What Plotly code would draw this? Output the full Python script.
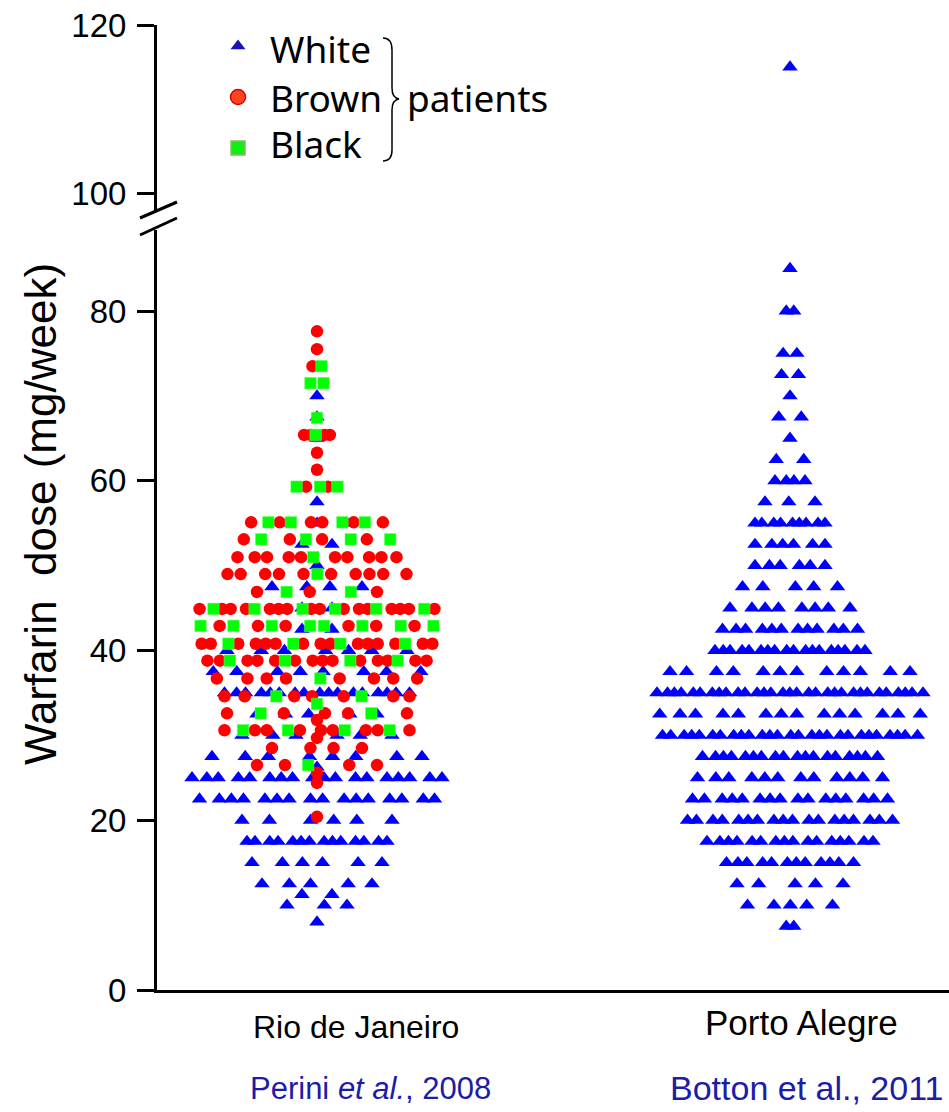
import numpy as np
import plotly.graph_objects as go

# ---------------------------------------------------------------------------
# Weekly warfarin dose (mg/week): dose rows and number of patients per row
# ---------------------------------------------------------------------------
sites = ["Rio de Janeiro", "Porto Alegre"]
citations = ["Perini <i>et al.</i>, 2008", "Botton et al., 2011"]
groups = ["White", "Brown", "Black"]

rio_white_dose = [70, 67.5, 65, 57.5, 55, 52.5, 50, 47.5, 45, 42.5, 40, 37.5, 35,
                  32.5, 30, 27.5, 26.25, 25, 22.5, 20, 17.5, 15, 12.5, 11.25, 10, 8]
rio_white_n = [1, 1, 1, 1, 3, 2, 1, 4, 2, 2, 7, 8, 17,
               5, 6, 8, 1, 18, 16, 6, 14, 6, 5, 2, 3, 1]

rio_brown_dose = [77.6, 75.5, 73.5, 65.4, 63.3, 61.3, 59.3, 55.1, 53.1, 51.0, 49.0,
                  46.9, 44.9, 42.9, 40.8, 38.8, 36.7, 34.6, 32.6, 31.8, 30.6, 29.7,
                  28.5, 26.5, 25.6, 24.4, 20.4]
rio_brown_n = [1, 1, 1, 4, 1, 1, 2, 6, 4, 10, 10,
               3, 16, 6, 15, 14, 8, 7, 5, 1, 9, 1,
               4, 4, 1, 1, 1]

rio_black_dose = [73.5, 71.5, 67.4, 65.4, 59.3, 55.1, 53.1, 51.0, 49.0, 46.9, 44.9,
                  42.9, 40.8, 38.8, 36.7, 34.6, 33.7, 32.6, 30.6, 26.5]
rio_black_n = [1, 2, 1, 1, 3, 4, 4, 1, 1, 2, 6,
               8, 4, 4, 1, 2, 1, 2, 4, 1]

porto_white_dose = [115, 85, 80, 75, 72.5, 70, 67.5, 65, 62.5, 60, 57.5, 55, 52.5,
                    50, 47.5, 45, 42.5, 40, 37.5, 35, 32.5, 30, 27.5, 25, 22.5, 20,
                    17.5, 15, 12.5, 10, 7.5]
porto_white_n = [1, 1, 2, 2, 2, 1, 2, 1, 2, 4, 3, 9, 6,
                 6, 5, 8, 12, 18, 12, 31, 14, 27, 18, 12, 16, 18,
                 16, 12, 5, 5, 2]

y_ticks_low = [0, 20, 40, 60, 80]
y_ticks_high = [100, 120]

# ---------------------------------------------------------------------------
# Canvas geometry (pixels) and the broken value axis
# ---------------------------------------------------------------------------
W, H = 949, 1112
PL, PR, PT, PB = 157, 949, 25, 990          # plot-area edges
SITE_PX = [317, 790]                         # swarm centre of each site
PX_PER_X = SITE_PX[1] - SITE_PX[0]           # one category step in pixels
LOW_PX_PER_UNIT = 8.4875                     # lower segment: 0..~89
HIGH_PX_PER_UNIT = 8.4                       # upper segment: ~98..120
LOW_TOP_PX, HIGH_BOT_PX = 230, 210           # where the axis is broken
BREAK_Y = 90                                 # values above go on the upper segment

plot_h = PB - PT
low_domain = [0, (PB - LOW_TOP_PX) / plot_h]
low_range = [0, (PB - LOW_TOP_PX) / LOW_PX_PER_UNIT]
high_domain = [(PB - HIGH_BOT_PX) / plot_h, 1]
high_range = [120 - (HIGH_BOT_PX - PT) / HIGH_PX_PER_UNIT, 120]
x_range = [1 - (SITE_PX[0] - PL) / PX_PER_X, 2 + (PR - SITE_PX[1]) / PX_PER_X]

# outline (row width in px versus dose) of each swarm
RIO_ENV = ([7, 10, 15, 20, 22.5, 25, 30, 35, 40, 45, 50, 55, 57, 60, 66, 72, 78],
           [0, 90, 130, 150, 235, 250, 185, 185, 230, 235, 165, 135, 70, 32, 25, 12, 0])
POA_ENV = ([6, 8, 10, 15, 20, 27.5, 30, 35, 37.5, 40, 45, 50, 55, 60, 70, 86],
           [0, 10, 85, 127, 205, 175, 255, 266, 240, 150, 120, 70, 70, 30, 20, 0])
STEP_MAX, STEP_MIN = 30.0, 5.0
GOLD = (np.sqrt(5) - 1) / 2


def px_x(x):
    return (x - PL) / (PR - PL)


def px_y(y):
    return (PB - y) / plot_h


def swarm(series, centre, env):
    """Spread patients sharing a dose along a row inside the swarm outline;
    colours are interleaved along each row."""
    vals, cols = [], []
    for ci, (d, n) in enumerate(series):
        v = np.repeat(np.asarray(d, float), n)
        vals.extend(v)
        cols.extend([ci] * len(v))
    vals = np.array(vals)
    cols = np.array(cols)
    offs = np.zeros(len(vals))
    for k, r in enumerate(np.unique(vals)):
        idx = np.where(vals == r)[0]
        n = len(idx)
        if n == 1:
            continue
        w = min(np.interp(r, *env), (n - 1) * STEP_MAX)
        w = max(w, (n - 1) * STEP_MIN)
        step = w / (n - 1)
        keys = []
        for c in np.unique(cols[idx]):
            members = idx[cols[idx] == c]
            m = len(members)
            for j, mem in enumerate(members):
                keys.append(((j + 0.5) / m, c, mem))
        keys.sort()
        order = [mem for _, _, mem in keys]
        base = np.linspace(-w / 2, w / 2, n)
        shake = ((np.arange(n) * GOLD + k * 0.29) % 1.0 - 0.5) * 0.6 * step
        shake[0] = shake[-1] = 0
        offs[order] = base + shake
    return vals, cols, centre + offs / PX_PER_X


rio_y, rio_c, rio_x = swarm(
    [(rio_white_dose, rio_white_n), (rio_brown_dose, rio_brown_n),
     (rio_black_dose, rio_black_n)], 1, RIO_ENV)
poa_y, poa_c, poa_x = swarm([(porto_white_dose, porto_white_n)], 2, POA_ENV)

styles = {
    0: dict(symbol="triangle-up", size=13.5, color="#0000ff"),
    1: dict(symbol="circle", size=12.5, color="#ff0000"),
    2: dict(symbol="square", size=11.5, color="#00ff00",
            line=dict(color="#66ff66", width=0.5)),
}

fig = go.Figure()

# white patients from both cities, then brown, then black on top
for ci in range(3):
    xs = list(rio_x[rio_c == ci])
    ys = list(rio_y[rio_c == ci])
    if ci == 0:
        xs += list(poa_x)
        ys += list(poa_y)
    xs = np.array(xs)
    ys = np.array(ys)
    low = ys <= BREAK_Y
    for mask, yax in ((low, "y"), (~low, "y2")):
        if mask.any():
            fig.add_trace(go.Scatter(
                x=xs[mask], y=ys[mask], xaxis="x", yaxis=yax, mode="markers",
                marker=styles[ci], showlegend=False, hoverinfo="y",
                name=groups[ci], cliponaxis=False))

# legend glyphs (drawn on the upper segment of the value axis)
leg_px = [(238, 46), (238, 97), (238, 148)]
leg_style = [
    dict(symbol="triangle-up", size=13, color="#1515b5"),
    dict(symbol="circle", size=15, color="#ff4422", line=dict(color="#e00000", width=1.5)),
    dict(symbol="square", size=14, color="#11ee11", line=dict(color="#88bb66", width=1.5)),
]
for (lx, ly), st in zip(leg_px, leg_style):
    fig.add_trace(go.Scatter(
        x=[1 + (lx - SITE_PX[0]) / PX_PER_X],
        y=[120 - (ly - PT) / HIGH_PX_PER_UNIT],
        xaxis="x", yaxis="y2", mode="markers", marker=st,
        showlegend=False, hoverinfo="skip", cliponaxis=False))

axis_font = dict(family="Liberation Sans, Arial, sans-serif", size=33, color="black")
yaxis_common = dict(showgrid=False, zeroline=False, showline=True, linewidth=3,
                    linecolor="black", ticks="outside", ticklen=17, tickwidth=3,
                    tickcolor="black", tickfont=axis_font, anchor="x",
                    ticklabelstandoff=4)

fig.update_layout(
    width=W, height=H,
    margin=dict(l=PL, r=W - PR, t=PT, b=H - PB, pad=0),
    paper_bgcolor="white", plot_bgcolor="white",
    xaxis=dict(range=x_range, showgrid=False, zeroline=False, showline=True,
               linewidth=3, linecolor="black", showticklabels=False, ticks="",
               anchor="y", domain=[0, 1]),
    yaxis=dict(domain=low_domain, range=low_range, tickvals=y_ticks_low,
               **yaxis_common),
    yaxis2=dict(domain=high_domain, range=high_range, tickvals=y_ticks_high,
                **yaxis_common),
)

# axis break marks
for y0, y1 in ((218, 202), (235, 218)):
    fig.add_shape(type="line", xref="paper", yref="paper",
                  x0=px_x(140), y0=px_y(y0), x1=px_x(177), y1=px_y(y1),
                  line=dict(color="black", width=3))

# curly brace grouping the legend entries
bx, tip = 392, 399
brace = [(383, 38), (bx, 38), (bx, 50), (bx, 88), (bx, 98), (tip, 99),
         (bx, 100), (bx, 110), (bx, 150), (bx, 161), (383, 161)]
p = [(px_x(a), px_y(b)) for a, b in brace]
path = (f"M {p[0][0]} {p[0][1]} Q {p[1][0]} {p[1][1]} {p[2][0]} {p[2][1]} "
        f"L {p[3][0]} {p[3][1]} Q {p[4][0]} {p[4][1]} {p[5][0]} {p[5][1]} "
        f"Q {p[6][0]} {p[6][1]} {p[7][0]} {p[7][1]} L {p[8][0]} {p[8][1]} "
        f"Q {p[9][0]} {p[9][1]} {p[10][0]} {p[10][1]}")
fig.add_shape(type="path", xref="paper", yref="paper", path=path,
              line=dict(color="black", width=1.5))

legend_font = dict(family="Comic Sans MS, Noto Sans, sans-serif", size=37, color="black")
for (lx, ly), name in zip([(268, 48), (268, 97), (268, 143)], groups):
    fig.add_annotation(x=px_x(lx), y=px_y(ly), xref="paper", yref="paper",
                       text=name, showarrow=False, xanchor="left", yanchor="middle",
                       font=legend_font)
fig.add_annotation(x=px_x(405), y=px_y(97), xref="paper", yref="paper",
                   text="patients", showarrow=False, xanchor="left",
                   yanchor="middle", font=legend_font)

# value-axis title
fig.add_annotation(x=px_x(40), y=px_y(514), xref="paper", yref="paper",
                   text="Warfarin\u00a0\u00a0dose (mg/week)", textangle=-90,
                   showarrow=False, xanchor="center", yanchor="middle",
                   font=dict(family="Liberation Sans, Arial, sans-serif", size=44,
                             color="black"))

# site names and data sources
for (cx, cy), name, fs in zip([(356, 1027), (801, 1022)], sites, [32, 35]):
    fig.add_annotation(x=px_x(cx), y=px_y(cy), xref="paper", yref="paper",
                       text=name, showarrow=False, xanchor="center", yanchor="middle",
                       font=dict(family="Liberation Sans, Arial, sans-serif", size=fs,
                                 color="black"))
for (cx, cy), cite, fs in zip([(370, 1088), (806, 1088)], citations, [31, 34]):
    fig.add_annotation(x=px_x(cx), y=px_y(cy), xref="paper", yref="paper",
                       text=cite, showarrow=False, xanchor="center", yanchor="middle",
                       font=dict(family="Liberation Sans Narrow, Arial Narrow, "
                                        "Liberation Sans, sans-serif",
                                 size=fs, color="#1c1ca8"))

fig.write_html("out.html")
